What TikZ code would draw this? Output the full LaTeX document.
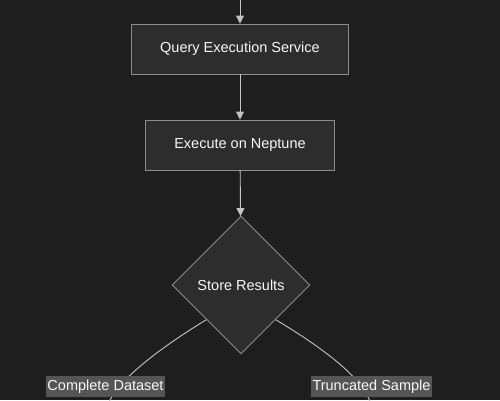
\documentclass[tikz,border=0pt]{standalone}
\usepackage{fontspec}
\setmainfont{Liberation Sans}
\usetikzlibrary{shapes.geometric, arrows.meta}

\definecolor{bgdark}{HTML}{1E1E1E}
\definecolor{boxfill}{HTML}{2D2D2D}
\definecolor{boxline}{HTML}{8C8C8C}
\definecolor{edgeline}{HTML}{C4C4C4}
\definecolor{labelfill}{HTML}{555555}
\definecolor{textlight}{HTML}{F7F7F7}

\begin{document}
\begin{tikzpicture}[x=1pt, y=-1pt, >={Triangle[length=8pt, width=8pt]},
    procbox/.style={rectangle, draw=boxline, fill=boxfill, line width=0.9pt, text=textlight,
        font=\fontsize{14.5}{16}\selectfont, minimum height=50pt, inner xsep=29pt},
    decision/.style={diamond, draw=boxline, fill=boxfill, line width=0.9pt, text=textlight,
        font=\fontsize{14.5}{16}\selectfont, minimum size=138pt, inner sep=0pt},
    edgelabel/.style={rectangle, fill=labelfill, text=textlight, inner xsep=1.5pt,
        font=\fontsize{14.5}{16}\selectfont, minimum height=21pt},
    flow/.style={draw=edgeline, line width=0.9pt}]
                \fill[bgdark] (0,0) rectangle (500,400);
                \useasboundingbox (0,0) rectangle (500,400);
                \clip (0,0) rectangle (500,400);

                \node[procbox] (query) at (240,49) {Query Execution Service};
                \node[procbox] (neptune) at (240,145) {Execute on Neptune};
                \node[decision] (store) at (241,285) {Store Results};

                \coordinate (incoming) at (240,-10);
                \coordinate (fullend) at (97,440);
                \coordinate (truncend) at (381,440);

                \draw[flow, ->] (incoming) -- (query);
                \draw[flow, ->] (query) -- (neptune);
                \draw[flow, ->] (neptune) -- (store);

                % branches out of the decision
                \draw[flow] (store.south west) .. controls (165,345) and (135,368) .. (119,387)
                    .. controls (108,400) and (102,415) .. (fullend);
                \draw[flow] (store.south east) .. controls (318,345) and (348,368) .. (362,387)
                    .. controls (371,400) and (376,415) .. (truncend);

                \node[edgelabel] (full) at (105.5,386.5) {Complete Dataset};
                \node[edgelabel] (trunc) at (371.5,386.5) {Truncated Sample};
            \end{tikzpicture}
\end{document}
